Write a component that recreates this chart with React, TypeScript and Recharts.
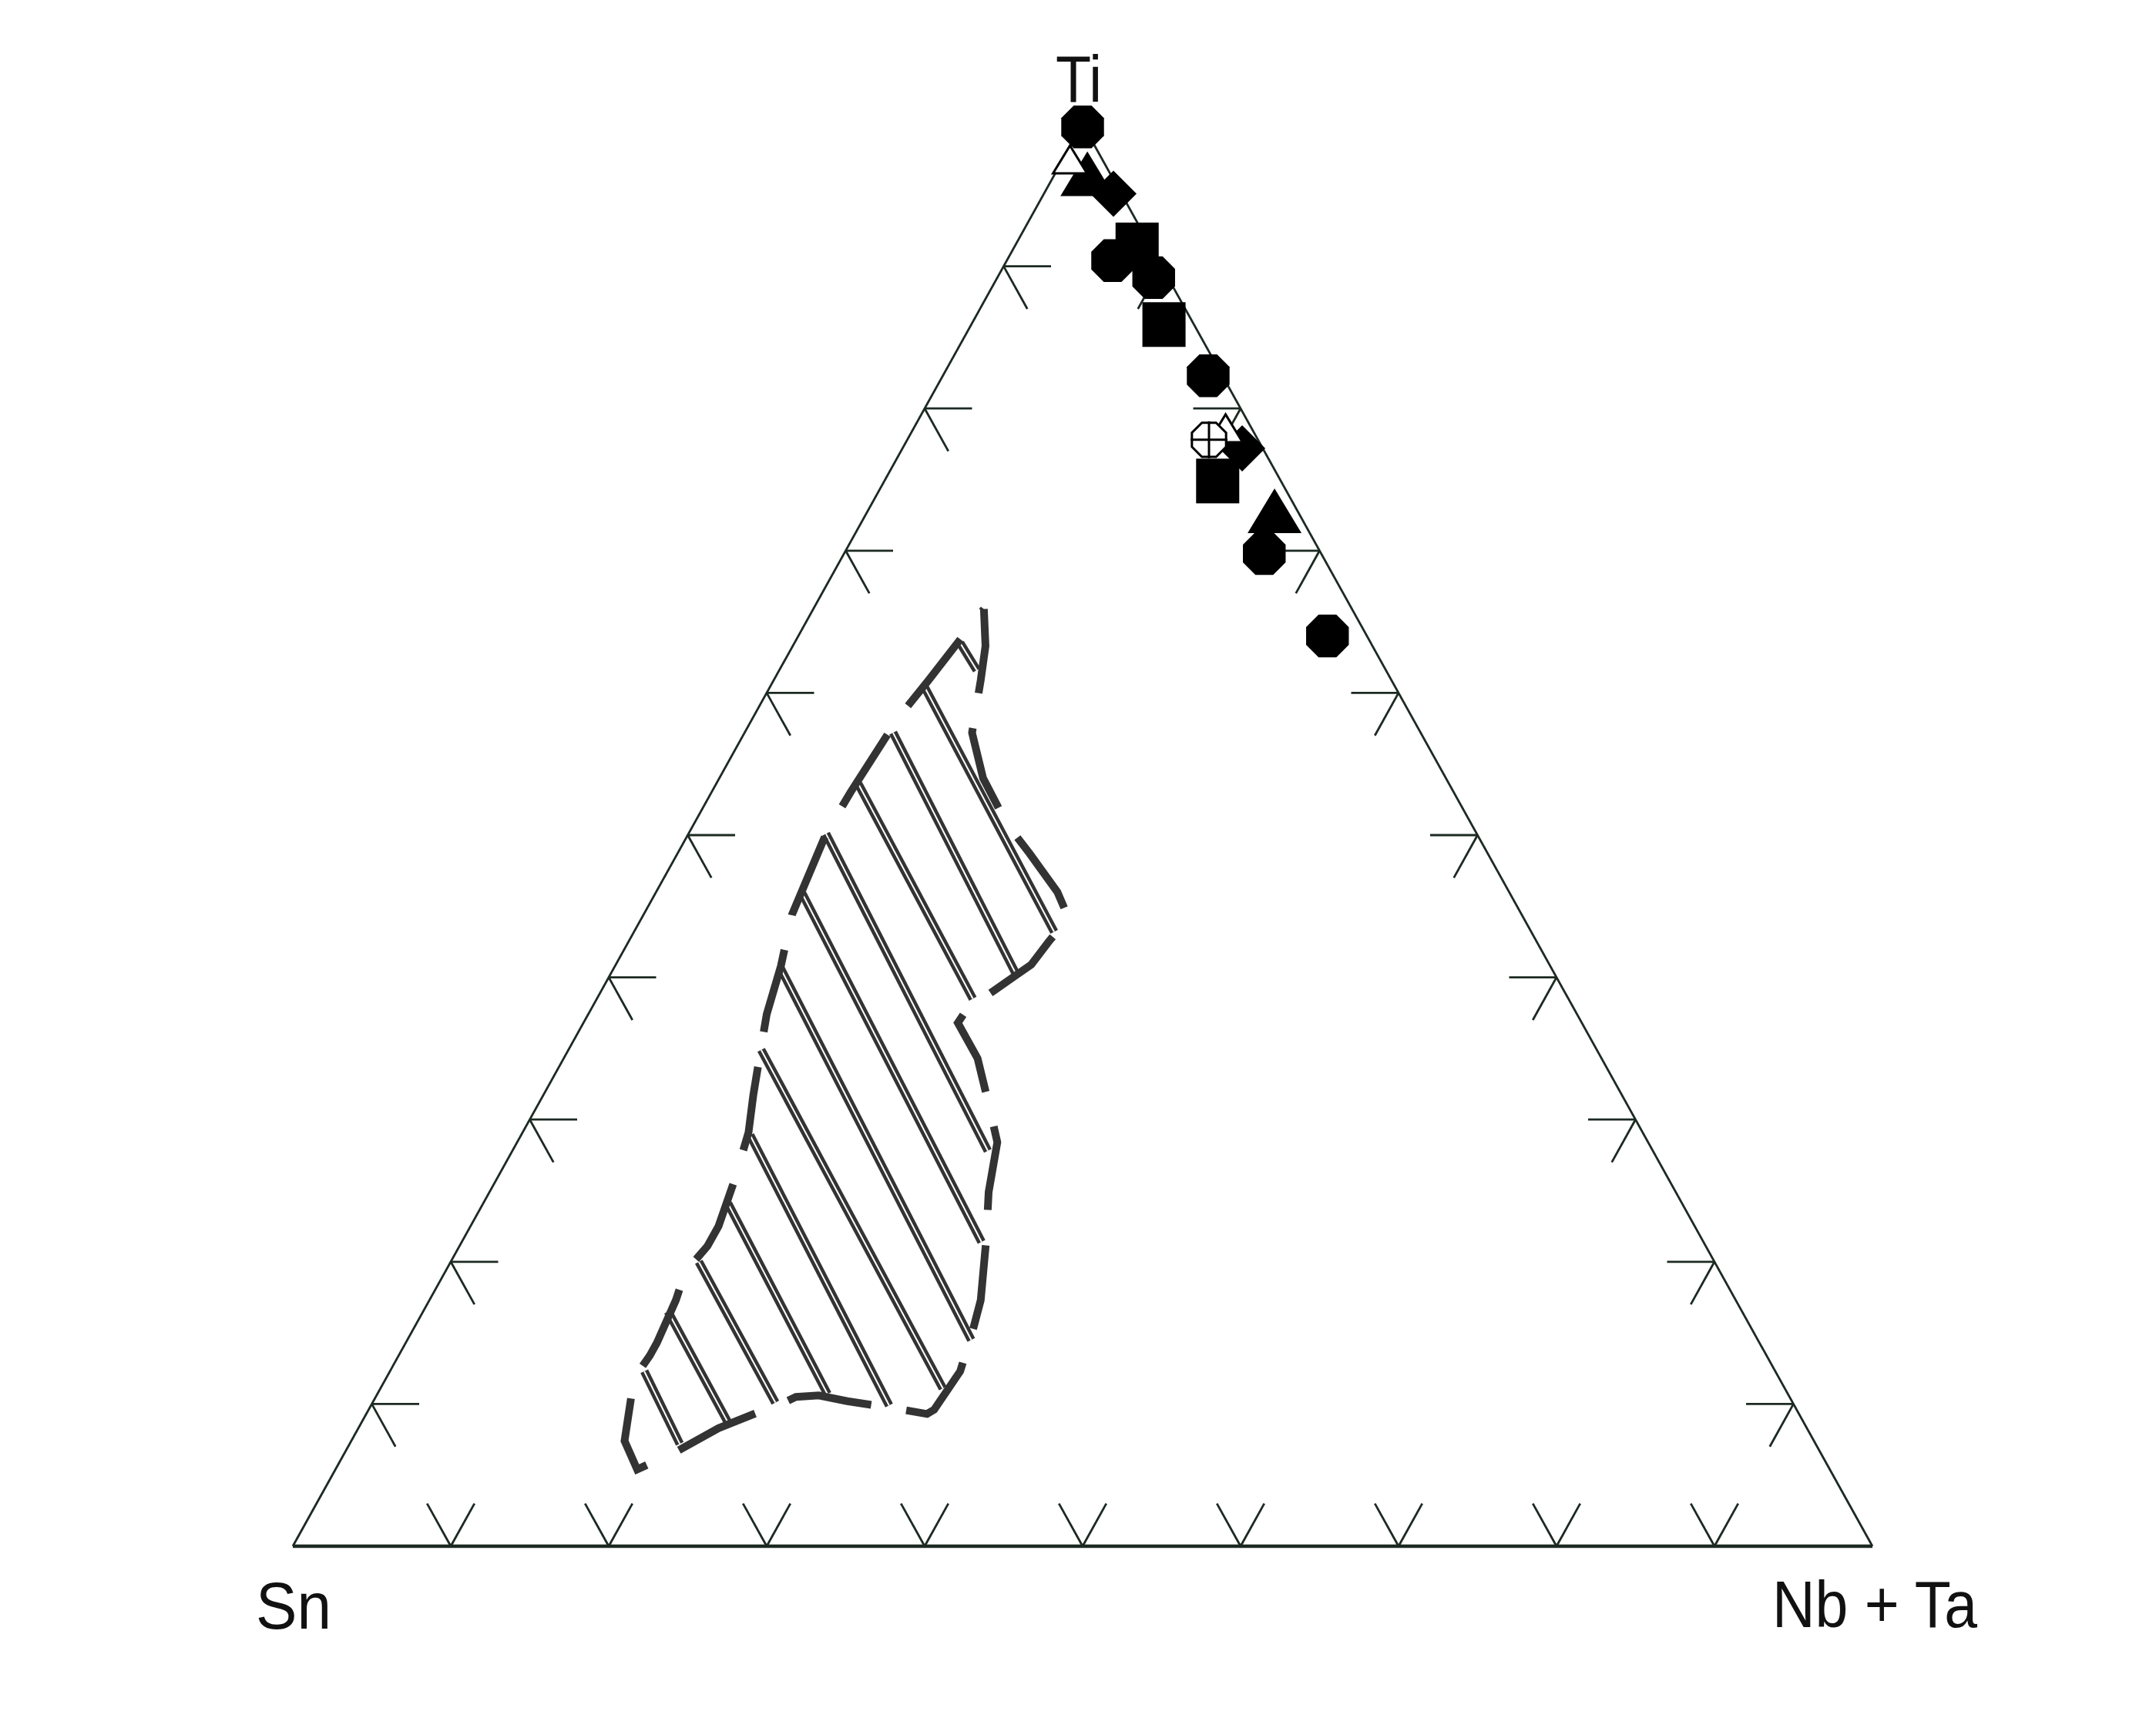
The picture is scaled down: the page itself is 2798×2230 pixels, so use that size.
import React from "react";
import { ScatterChart, Scatter, XAxis, YAxis, ReferenceLine } from "recharts";

// compositions are [Ti, Sn, Nb+Ta] in %
const APEX_LABELS = ["Ti", "Sn", "Nb + Ta"];
const TICKS = [10, 20, 30, 40, 50, 60, 70, 80, 90];

const octagons = [
  [99.8, 0.1, 0.1],
  [90.4, 2.9, 6.7],
  [89.2, 0.9, 9.9],
  [82.3, 0.9, 16.8],
  [69.8, 3.6, 26.6],
  [64.0, 2.5, 33.5],
];
const squares = [
  [91.5, 0.8, 7.7],
  [85.9, 1.9, 12.2],
  [74.9, 4.0, 21.1],
];
const triangles = [
  [96.4, 1.5, 2.1],
  [72.7, 1.5, 25.8],
];
const diamonds = [
  [95.1, 0.5, 4.4],
  [77.2, 1.3, 21.5],
];
const openTriangles = [
  [97.4, 2.1, 0.5],
  [78.5, 1.7, 19.8],
];
const crossOctagons = [[77.8, 3.1, 19.1]];

// outline of the hatched field
const fieldOutline = [
  [65.9, 23.3, 10.8], [63.3, 24.5, 12.2], [60.9, 26.0, 13.1], [57.2, 28.4, 14.4],
  [54.0, 29.3, 16.7], [50.8, 29.4, 19.8], [48.7, 29.0, 22.3], [46.0, 28.6, 25.4],
  [44.2, 28.8, 27.0], [42.5, 30.9, 26.6], [40.9, 32.8, 26.3], [39.0, 36.2, 24.8],
  [37.8, 38.4, 23.8], [36.8, 39.5, 23.7], [35.8, 39.5, 24.7], [34.3, 39.5, 26.2],
  [31.1, 40.4, 28.5], [28.4, 41.2, 30.4], [24.9, 43.5, 31.6], [21.6, 45.3, 33.1],
  [17.3, 47.8, 34.9], [15.4, 49.2, 35.4], [12.3, 51.6, 36.1], [9.6, 54.6, 35.8],
  [9.3, 55.2, 35.5], [9.7, 57.1, 33.2], [10.2, 59.8, 30.0], [10.6, 61.4, 28.0],
  [10.5, 62.9, 26.6], [10.0, 64.1, 25.9], [9.5, 65.6, 24.9], [8.3, 68.9, 22.8],
  [6.7, 72.3, 21.0], [5.4, 75.5, 19.1], [7.4, 75.3, 17.3], [8.5, 74.6, 16.9],
  [11.8, 72.5, 15.7], [13.4, 70.7, 15.9], [14.3, 69.8, 15.9], [17.3, 67.1, 15.6],
  [19.3, 65.5, 15.2], [21.1, 63.2, 15.7], [22.5, 61.8, 15.7], [25.7, 59.2, 15.1],
  [29.1, 56.6, 14.3], [31.7, 55.0, 13.3], [35.1, 52.8, 12.1], [37.4, 51.3, 11.3],
  [40.8, 48.7, 10.5], [44.4, 46.2, 9.4], [50.2, 41.1, 8.7], [53.0, 38.2, 8.8],
  [58.2, 32.6, 9.2], [60.9, 29.3, 9.8], [65.9, 23.3, 10.8],
];

// hatch strokes inside the field (start, end)
const hatchLines = [
  [[63.5, 26.0, 10.5], [61.6, 25.9, 12.5]],
  [[60.4, 29.8, 9.8], [43.2, 30.2, 26.6]],
  [[57.2, 33.4, 9.4], [40.3, 34.1, 25.6]],
  [[53.6, 37.4, 9.0], [38.5, 37.7, 23.8]],
  [[50.1, 41.2, 8.7], [27.8, 42.1, 30.1]],
  [[45.9, 44.8, 9.3], [21.4, 45.7, 32.9]],
  [[40.7, 48.8, 10.5], [14.5, 49.8, 35.7]],
  [[34.9, 52.9, 12.2], [11.1, 53.3, 35.6]],
  [[28.9, 56.6, 14.5], [9.9, 57.3, 32.8]],
  [[24.1, 60.4, 15.5], [10.7, 60.8, 28.5]],
  [[20.0, 64.3, 15.7], [10.1, 64.4, 25.5]],
  [[16.5, 68.0, 15.5], [8.7, 68.1, 23.2]],
  [[12.3, 71.6, 16.1], [7.2, 71.9, 20.9]],
];

const FRAME = "#1c2a22";
const FIELD = "#333333";
const ARM = 3;

const tern = (c: number[]) => {
  const [ti, sn, nb] = c;
  const s = ti + sn + nb;
  return { x: (nb + ti / 2) / s, y: ti / s };
};

const noDot = () => <g />;

const octPoints = (cx: number, cy: number, r: number) => {
  const p: string[] = [];
  for (let i = 0; i < 8; i++) {
    const a = ((22.5 + 45 * i) * Math.PI) / 180;
    p.push(`${cx + r * Math.cos(a)},${cy + r * Math.sin(a)}`);
  }
  return p.join(" ");
};

const Octagon = (props: any) => <polygon points={octPoints(props.cx, props.cy, 30)} fill="#000" />;
const Square = (props: any) => <rect x={props.cx - 28} y={props.cy - 29} width={56} height={58} fill="#000" />;
const Triangle = (props: any) => {
  const { cx, cy } = props;
  return <polygon points={`${cx},${cy - 31} ${cx + 35},${cy + 27} ${cx - 35},${cy + 27}`} fill="#000" />;
};
const Diamond = (props: any) => {
  const { cx, cy } = props;
  return <polygon points={`${cx},${cy - 30} ${cx + 30},${cy} ${cx},${cy + 30} ${cx - 30},${cy}`} fill="#000" />;
};
const OpenTriangle = (props: any) => {
  const { cx, cy } = props;
  return (
    <polygon
      points={`${cx},${cy - 20} ${cx + 22},${cy + 16} ${cx - 22},${cy + 16}`}
      fill="#fff"
      stroke="#000"
      strokeWidth={3}
    />
  );
};
const CrossOctagon = (props: any) => {
  const { cx, cy } = props;
  return (
    <g>
      <polygon points={octPoints(cx, cy, 24)} fill="#fff" stroke="#000" strokeWidth={3} />
      <line x1={cx - 24} y1={cy} x2={cx + 24} y2={cy} stroke="#000" strokeWidth={3} />
      <line x1={cx} y1={cy - 24} x2={cx} y2={cy + 24} stroke="#000" strokeWidth={3} />
    </g>
  );
};

function tickSegments() {
  const segs: { x: number; y: number }[][] = [];
  TICKS.forEach((k) => {
    // Sn - Ti edge
    const l = tern([k, 100 - k, 0]);
    segs.push([l, tern([k, 100 - k - ARM, ARM])]);
    segs.push([l, tern([k - ARM, 100 - k, ARM])]);
    // Sn - Nb+Ta edge
    const b = tern([0, 100 - k, k]);
    segs.push([b, tern([ARM, 100 - k - ARM, k])]);
    segs.push([b, tern([ARM, 100 - k, k - ARM])]);
    // Ti - Nb+Ta edge
    const r = tern([k, 0, 100 - k]);
    segs.push([r, tern([k, ARM, 100 - k - ARM])]);
    segs.push([r, tern([k - ARM, ARM, 100 - k])]);
  });
  return segs;
}

export default function App() {
  const ti = tern([100, 0, 0]);
  const sn = tern([0, 100, 0]);
  const nb = tern([0, 0, 100]);
  const edges = [
    [sn, nb],
    [sn, ti],
    [ti, nb],
  ];
  const fontFamily = "'Liberation Sans', Arial, sans-serif";

  return (
    <div style={{ position: "absolute", left: 0, top: 0, width: 2798, height: 2230, background: "#fff" }}>
      <ScatterChart width={2798} height={2230} margin={{ top: 161, right: 368, bottom: 223, left: 380 }}>
        <XAxis type="number" dataKey="x" domain={[0, 1]} hide />
        <YAxis type="number" dataKey="y" domain={[0, 1]} hide />
        {edges.map((e, i) => (
          <ReferenceLine
            key={`edge-${i}`}
            segment={e}
            stroke={FRAME}
            strokeWidth={i === 0 ? 4.5 : 2.8}
            ifOverflow="visible"
          />
        ))}
        {tickSegments().map((s, i) => (
          <ReferenceLine key={`tick-${i}`} segment={s} stroke={FRAME} strokeWidth={2.8} ifOverflow="visible" />
        ))}
        {hatchLines.map((h, i) => (
          <Scatter
            key={`hd-${i}`}
            data={h.map(tern)}
            shape={noDot}
            line={{ stroke: FIELD, strokeWidth: 11 }}
            lineType="joint"
            isAnimationActive={false}
          />
        ))}
        {hatchLines.map((h, i) => (
          <Scatter
            key={`hw-${i}`}
            data={h.map(tern)}
            shape={noDot}
            line={{ stroke: "#fff", strokeWidth: 2 }}
            lineType="joint"
            isAnimationActive={false}
          />
        ))}
        <Scatter
          data={fieldOutline.map(tern)}
          shape={noDot}
          line={{ stroke: FIELD, strokeWidth: 10, strokeDasharray: "110 46" }}
          lineType="joint"
          isAnimationActive={false}
        />
        <Scatter data={octagons.map(tern)} shape={Octagon} isAnimationActive={false} />
        <Scatter data={squares.map(tern)} shape={Square} isAnimationActive={false} />
        <Scatter data={triangles.map(tern)} shape={Triangle} isAnimationActive={false} />
        <Scatter data={diamonds.map(tern)} shape={Diamond} isAnimationActive={false} />
        <Scatter data={openTriangles.map(tern)} shape={OpenTriangle} isAnimationActive={false} />
        <Scatter data={crossOctagons.map(tern)} shape={CrossOctagon} isAnimationActive={false} />
      </ScatterChart>
      <svg
        width={2798}
        height={2230}
        style={{ position: "absolute", left: 0, top: 0, pointerEvents: "none" }}
      >
        <text x={1370} y={132} fontSize={86} fontFamily={fontFamily} fill="#111" textLength={60} lengthAdjust="spacingAndGlyphs">
          {APEX_LABELS[0]}
        </text>
        <text x={332} y={2114} fontSize={86} fontFamily={fontFamily} fill="#111" textLength={98} lengthAdjust="spacingAndGlyphs">
          {APEX_LABELS[1]}
        </text>
        <text x={2300} y={2112} fontSize={86} fontFamily={fontFamily} fill="#111" textLength={266} lengthAdjust="spacingAndGlyphs">
          {APEX_LABELS[2]}
        </text>
      </svg>
    </div>
  );
}
